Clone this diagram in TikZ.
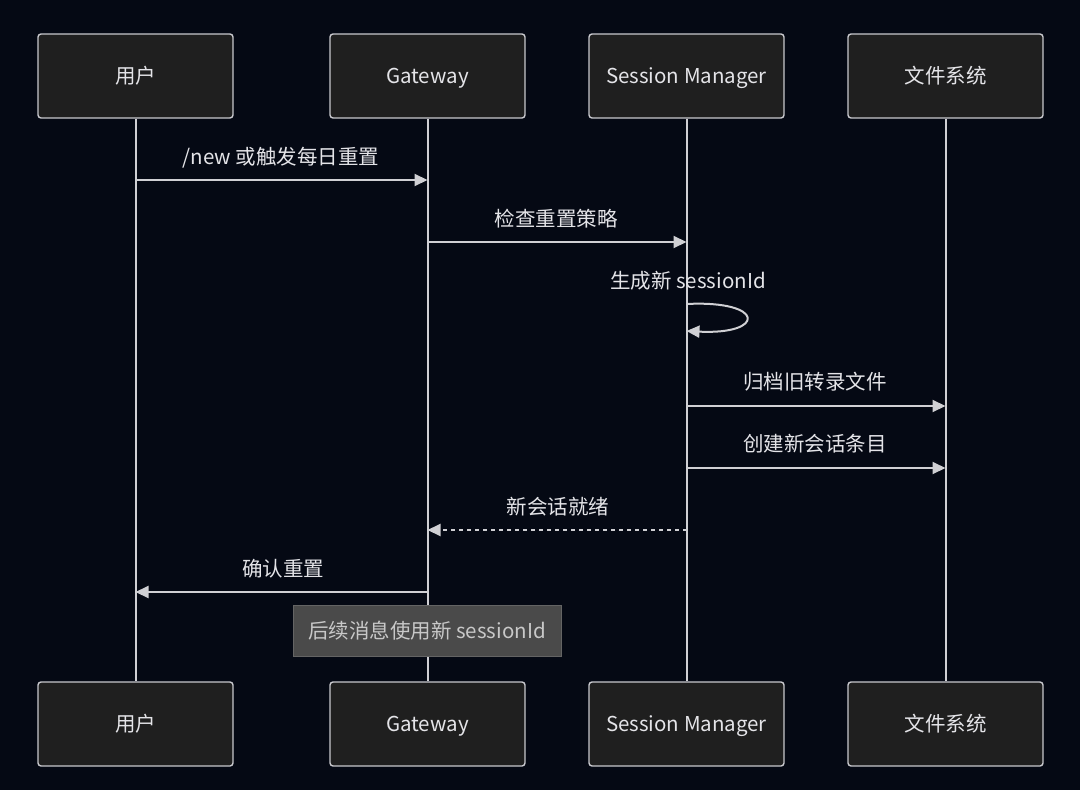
\documentclass[tikz,border=0pt]{standalone}
\usepackage{fontspec}
\setmainfont{Noto Sans CJK SC}
\usetikzlibrary{arrows.meta}
\definecolor{bgc}{RGB}{5,9,20}
\definecolor{boxfill}{RGB}{31,31,31}
\definecolor{boxline}{RGB}{200,200,205}
\definecolor{linec}{RGB}{208,208,212}
\definecolor{txtc}{RGB}{228,228,232}
\definecolor{notefill}{RGB}{74,74,74}
\definecolor{noteline}{RGB}{100,100,100}
\definecolor{notetxt}{RGB}{200,200,200}
\tikzset{
  txtfont/.style={font=\fontsize{20.5}{24}\selectfont, text height=17pt, text depth=2pt},
  actor/.style={draw=boxline, line width=1.4pt, fill=boxfill, rounded corners=3pt,
    minimum width=195pt, minimum height=84pt, inner sep=0pt, text=txtc, txtfont},
  life/.style={draw=linec, line width=2pt},
  msg/.style={draw=linec, line width=2pt, -{Triangle[length=13pt,width=12pt]}},
  dmsg/.style={msg, dash pattern=on 4pt off 4pt},
  lbl/.style={text=txtc, txtfont, inner sep=0pt},
  notebox/.style={draw=noteline, line width=1pt, fill=notefill, text=notetxt,
    minimum width=268pt, minimum height=51pt, inner sep=0pt, txtfont}
}
\begin{document}
\begin{tikzpicture}[x=1pt,y=-1pt]
\useasboundingbox[fill=bgc] (0,0) rectangle (1080,790);
% actors top
\node[actor] (ut) at (135.5,76) {用户};
\node[actor] (gt) at (427.5,76) {Gateway};
\node[actor] (st) at (686.5,76) {Session Manager};
\node[actor] (ft) at (945.5,76) {文件系统};
% actors bottom
\node[actor] (ub) at (135.5,724) {用户};
\node[actor] (gb) at (427.5,724) {Gateway};
\node[actor] (sb) at (686.5,724) {Session Manager};
\node[actor] (fb) at (945.5,724) {文件系统};
% lifelines
\draw[life] (ut.south) -- (ub.north);
\draw[life] (gt.south) -- (gb.north);
\draw[life] (st.south) -- (sb.north);
\draw[life] (ft.south) -- (fb.north);
% message anchor coordinates
\coordinate (u1) at (135.5,180); \coordinate (g1) at (427.5,180);
\coordinate (g2) at (427.5,242); \coordinate (s2) at (686.5,242);
\coordinate (s3a) at (686.5,304); \coordinate (s3b) at (686.5,331);
\coordinate (s4) at (686.5,406); \coordinate (f4) at (945.5,406);
\coordinate (s5) at (686.5,468); \coordinate (f5) at (945.5,468);
\coordinate (s6) at (686.5,530); \coordinate (g6) at (427.5,530);
\coordinate (g7) at (427.5,592); \coordinate (u7) at (135.5,592);
% messages
\draw[msg] (u1) -- (g1);
\node[lbl] (l1) at (281,157) {/new 或触发每日重置};
\draw[msg] (g2) -- (s2);
\node[lbl] (l2) at (556,219) {检查重置策略};
\draw[msg] (s3a) .. controls (766,300) and (766,335) .. (s3b);
\node[lbl] (l3) at (688,281) {生成新 sessionId};
\draw[msg] (s4) -- (f4);
\node[lbl] (l4) at (815,382) {归档旧转录文件};
\draw[msg] (s5) -- (f5);
\node[lbl] (l5) at (815,444) {创建新会话条目};
\draw[dmsg] (s6) -- (g6);
\node[lbl] (l6) at (558,507) {新会话就绪};
\draw[msg] (g7) -- (u7);
\node[lbl] (l7) at (283,569) {确认重置};
% note
\node[notebox] (note) at (427,630.5) {后续消息使用新 sessionId};
\end{tikzpicture}
\end{document}
